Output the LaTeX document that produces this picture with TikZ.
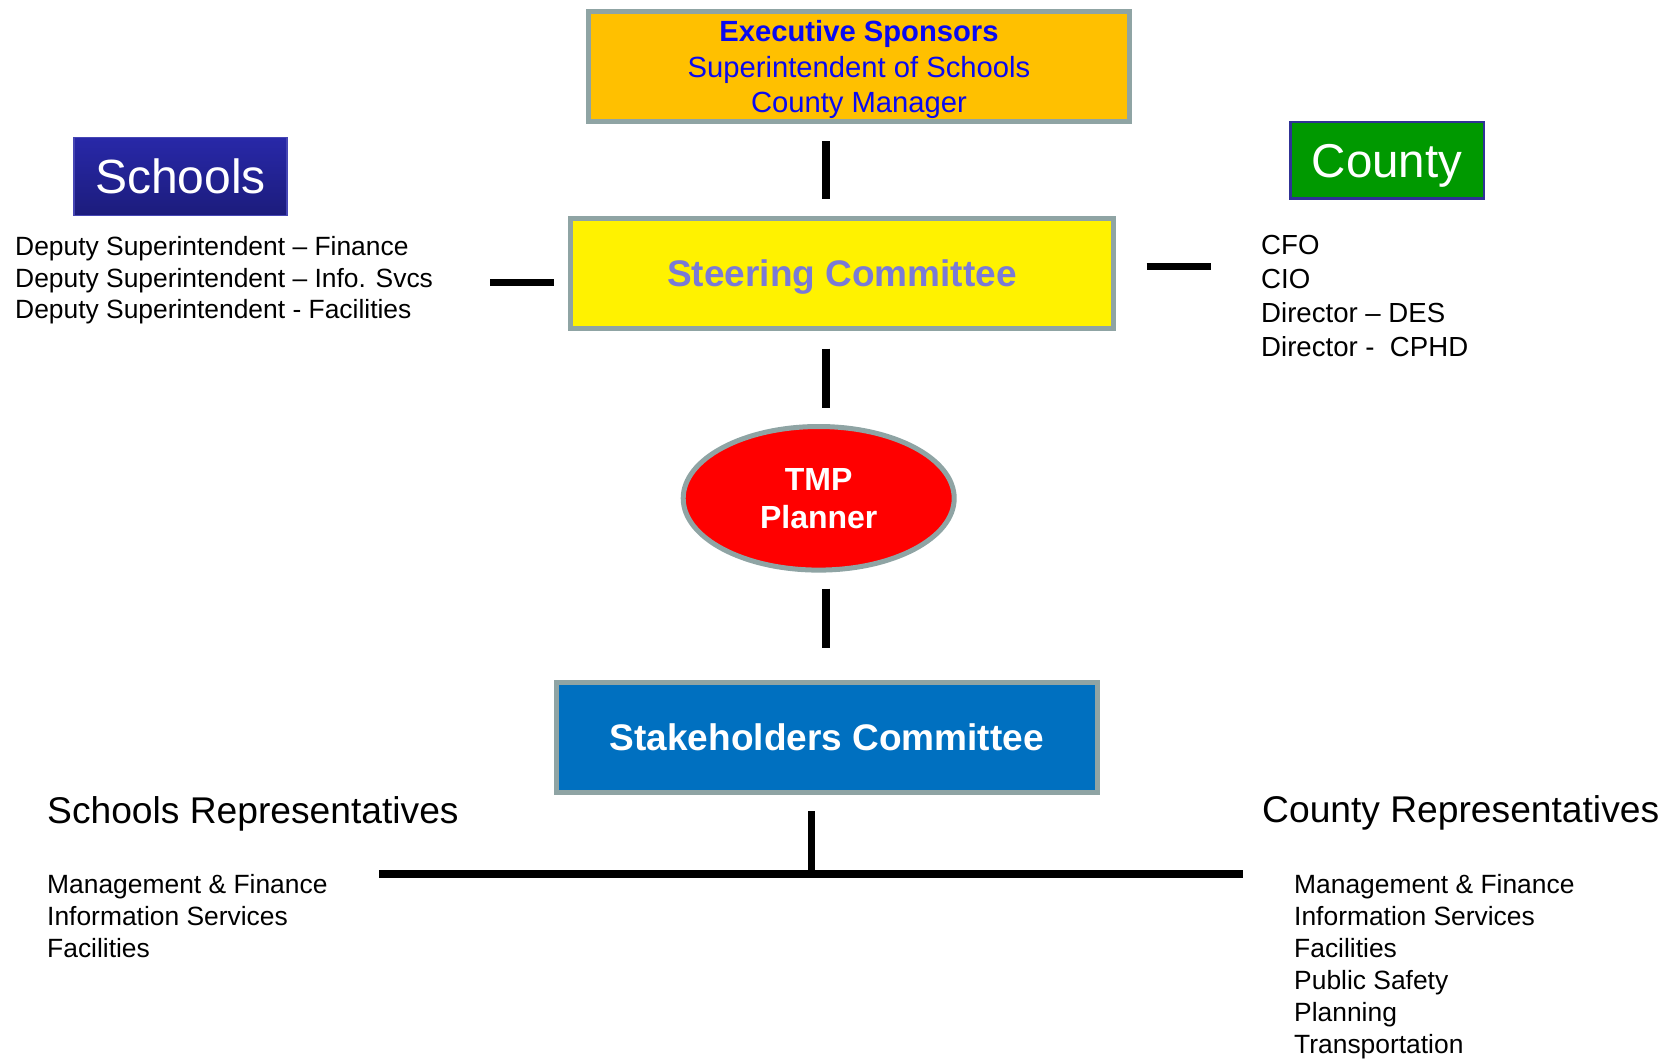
\documentclass[tikz,border=0pt]{standalone}
\usepackage{fontspec}
\setmainfont{Liberation Sans}
\usetikzlibrary{shapes.geometric,calc}
\definecolor{bordergray}{RGB}{143,164,164}
\definecolor{execfill}{RGB}{255,192,0}
\definecolor{execblue}{RGB}{10,10,240}
\definecolor{steertext}{RGB}{122,122,214}
\definecolor{stakeblue}{RGB}{0,112,192}
\definecolor{schooltop}{RGB}{40,40,168}
\definecolor{schoolbot}{RGB}{28,28,124}
\definecolor{schoolborder}{RGB}{70,70,180}
\definecolor{countygreen}{RGB}{0,153,0}
\definecolor{countyborder}{RGB}{48,50,150}
\begin{document}
\begin{tikzpicture}[x=1pt,y=-1pt,
  box/.style={draw=bordergray, line width=5pt, inner sep=0pt, align=center},
  listtext/.style={align=left, inner sep=0pt, text=black},
  vconn/.style={line width=8.5pt, black},
  hconn/.style={line width=7pt, black},
  barline/.style={line width=8.5pt, black},
  stemline/.style={line width=7pt, black}]
\useasboundingbox (0,0) rectangle (1670,1059);

% main boxes
\node[box, fill=execfill, text=execblue, minimum width=541pt, minimum height=110pt,
  font=\fontsize{29.2}{35.2}\selectfont, text depth=0pt] (exec) at (859,66.5)
  {\textbf{Executive Sponsors}\\Superintendent of Schools\\County Manager};

\node[box, fill=yellow, text=steertext, minimum width=543pt, minimum height=110pt,
  font=\fontsize{37}{44}\selectfont\bfseries, text depth=0pt] (steer) at (842,273.5)
  {Steering Committee};

\node[ellipse, draw=bordergray, line width=5pt, fill=red, text=white,
  minimum width=271pt, minimum height=143.6pt, inner sep=0pt, align=center,
  font=\fontsize{32}{38}\selectfont\bfseries] (tmp) at (818.7,498.3) {TMP\\Planner};

\node[box, fill=stakeblue, text=white, minimum width=541.5pt, minimum height=110pt,
  font=\fontsize{37}{44}\selectfont\bfseries, text depth=0pt] (stake) at (826.75,737.5)
  {Stakeholders Committee};

% side headers
\node[top color=schooltop, bottom color=schoolbot, draw=schoolborder, line width=1.5pt,
  text=white, minimum width=213pt, minimum height=78pt, inner sep=0pt,
  font=\fontsize{48}{56}\selectfont, text depth=0pt] (schools) at (180.5,176.5) {Schools};

\node[fill=countygreen, draw=countyborder, line width=2.5pt, text=white,
  minimum width=193.5pt, minimum height=76.5pt, inner sep=0pt,
  font=\fontsize{47.5}{55}\selectfont, text depth=0pt] (county) at (1387,160.5) {County};

% lists
\node[listtext, anchor=north west, font=\fontsize{26.4}{31.8}\selectfont] (slist) at (15,236)
  {Deputy Superintendent – Finance\\Deputy Superintendent – Info. Svcs\\Deputy Superintendent - Facilities};

\node[listtext, anchor=north west, font=\fontsize{27.6}{33.7}\selectfont] (clist) at (1261,235.5)
  {CFO\\CIO\\Director – DES\\Director -~ CPHD};

\node[anchor=base west, inner sep=0pt, font=\fontsize{37.2}{44}\selectfont] (srep) at (47,823)
  {Schools Representatives};
\node[anchor=base west, inner sep=0pt, font=\fontsize{37.2}{44}\selectfont] (crep) at (1262,822.5)
  {County Representatives};

\node[listtext, anchor=north west, font=\fontsize{26.4}{32}\selectfont] (srlist) at (47,874)
  {Management \& Finance\\Information Services\\Facilities};
\node[listtext, anchor=north west, font=\fontsize{26.4}{32}\selectfont] (crlist) at (1294,874)
  {Management \& Finance\\Information Services\\Facilities\\Public Safety\\Planning\\Transportation};

% connectors
\coordinate (cx) at (826,0);
\draw[vconn, shorten <=17.5pt, shorten >=16.5pt] (exec.south -| cx) -- (steer.north -| cx);
\draw[vconn, shorten <=17.5pt, shorten >=16.5pt] (steer.south -| cx) -- (tmp.north -| cx);
\draw[vconn, shorten <=16pt, shorten >=32.5pt] (tmp.south -| cx) -- (stake.north -| cx);

\coordinate (lc) at (0,283);
\coordinate (rc) at (0,267);
\draw[hconn] ($(steer.west |- lc)+(-78,0)$) -- ($(steer.west |- lc)+(-14,0)$);
\draw[hconn] ($(steer.east |- rc)+(30.5,0)$) -- ($(steer.east |- rc)+(94.5,0)$);

\coordinate (barL) at (379,874);
\coordinate (barR) at (1243,874);
\coordinate (barM) at (811,874);
\draw[barline] (barL) -- (barR);
\draw[stemline, shorten <=16pt] (stake.south -| barM) -- (barM);
\end{tikzpicture}
\end{document}
